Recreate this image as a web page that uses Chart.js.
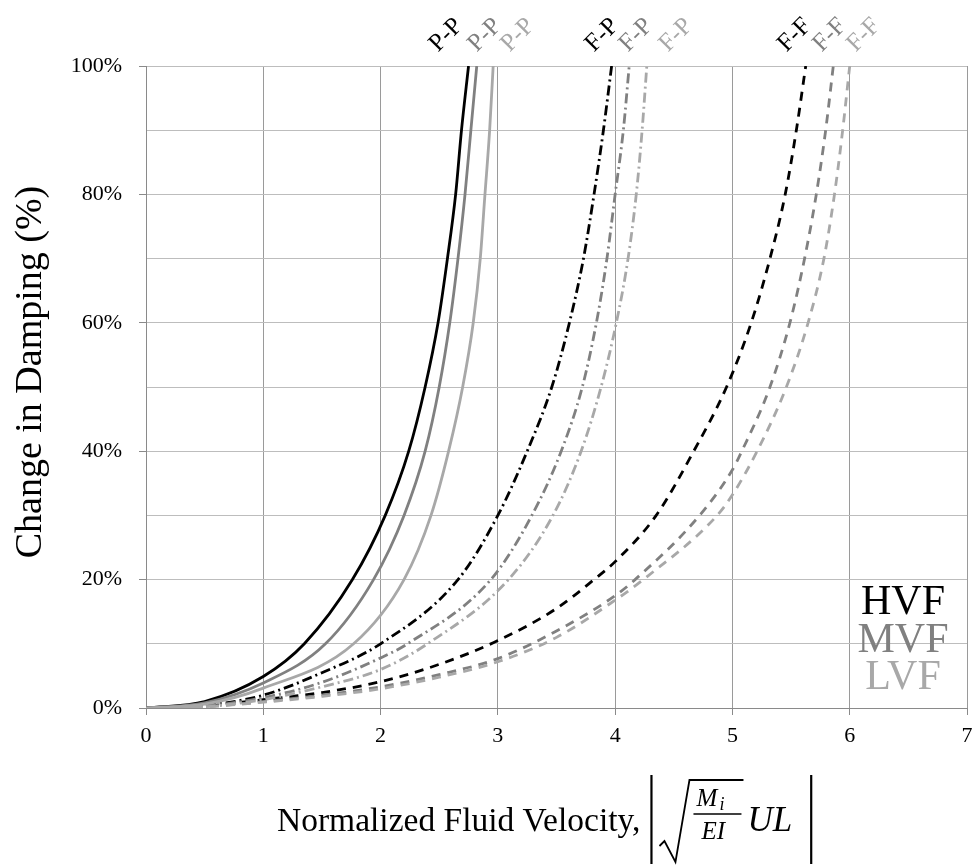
<!DOCTYPE html>
<html><head><meta charset="utf-8">
<script src="https://cdn.jsdelivr.net/npm/chart.js@4/dist/chart.umd.min.js"></script>
<style>html,body{margin:0;padding:0;background:#fff;}</style>
</head><body>
<canvas id="c" width="974" height="865"></canvas>
<script>
// ---------- data ----------
const xTickValues = [0,1,2,3,4,5,6,7];
const yLabelValues = [0,20,40,60,80,100];
const yGridValues = [0,10,20,30,40,50,60,70,80,90,100];

// P-P (solid)
const ppHvfX = [0,0.5,1,1.35,1.76,2.04,2.24,2.38,2.49,2.57,2.64,2.69,2.75];
const ppHvfY = [0,1.0,4.9,10,20,30,40,50,60,70,80,90,100];
const ppMvfX = [0,0.5,1,1.53,1.94,2.2,2.38,2.5,2.59,2.66,2.72,2.77,2.82];
const ppMvfY = [0,0.8,3.9,10,20,30,40,50,60,70,80,90,100];
const ppLvfX = [0,0.5,1,1.77,2.2,2.43,2.58,2.7,2.79,2.85,2.89,2.93,2.96];
const ppLvfY = [0,0.6,3.1,10,20,30,40,50,60,70,80,90,100];
// F-P (dash-dot)
const fpHvfX = [0,0.5,1,1.5,2,2.66,3.0,3.25,3.46,3.61,3.73,3.82,3.9,3.97];
const fpHvfY = [0,0.4,2.0,5.5,10,20,30,40,50,60,70,80,90,100];
const fpMvfX = [0,0.5,1,1.5,2,2.23,2.94,3.29,3.54,3.72,3.84,3.93,4.0,4.07,4.12];
const fpMvfY = [0,0.3,1.6,4,7.8,10,20,30,40,50,60,70,80,90,100];
const fpLvfX = [0,0.5,1,1.5,2,2.4,3.09,3.47,3.71,3.88,4.01,4.11,4.18,4.23,4.27];
const fpLvfY = [0,0.2,1.3,3.3,6,10,20,30,40,50,60,70,80,90,100];
// F-F (dashed)
const ffHvfX = [0,0.5,1,1.5,2,2.5,3,3.5,3.82,4,4.35,4.67,4.95,5.16,5.32,5.45,5.545,5.625];
const ffHvfY = [0,0.3,1.3,2.4,4.1,6.8,10.5,15.5,20,22.8,30,40,50,60,70,80,90,100];
const ffMvfX = [0,0.5,1,1.5,2,2.5,3,3.5,4,4.17,4.72,5.0,5.08,5.32,5.49,5.615,5.715,5.795,5.86];
const ffMvfY = [0,0.2,1.0,2.0,3.3,5.2,7.7,12,17.5,20,30,37.1,40,50,60,70,80,90,100];
const ffLvfX = [0,0.5,1,1.5,2,2.5,3,3.5,4,4.24,4.87,5.0,5.21,5.46,5.645,5.78,5.87,5.94,6.0];
const ffLvfY = [0,0.2,0.9,1.8,3.0,4.8,7.2,11,16.8,20,30,33.2,40,50,60,70,80,90,100];

const levelNames = ['HVF','MVF','LVF'];
const curveNames = ['P-P','F-P','F-F'];
// label anchor along x (data units) for each curve name, per level H/M/L
const labelAnchorX = { 'P-P':[2.56,2.89,3.17], 'F-P':[3.89,4.18,4.52], 'F-F':[5.53,5.83,6.12] };

// ---------- styles ----------
const levelColors = { HVF:'#000000', MVF:'#808080', LVF:'#a8a8a8' };
const curveDash = { 'P-P':[], 'F-P':[10,4,2,4], 'F-F':[9,7] };
const serif = '"Liberation Serif", "Times New Roman", serif';

const pts = (xs, ys) => xs.map((x,i)=>({x, y: ys[i]}));
const series = [
  ['P-P','LVF',ppLvfX,ppLvfY],['P-P','MVF',ppMvfX,ppMvfY],['P-P','HVF',ppHvfX,ppHvfY],
  ['F-P','LVF',fpLvfX,fpLvfY],['F-P','MVF',fpMvfX,fpMvfY],['F-P','HVF',fpHvfX,fpHvfY],
  ['F-F','LVF',ffLvfX,ffLvfY],['F-F','MVF',ffMvfX,ffMvfY],['F-F','HVF',ffHvfX,ffHvfY]
];
const datasets = series.map(([c,l,xs,ys])=>({
  label: c+' '+l,
  data: pts(xs,ys),
  borderColor: levelColors[l],
  borderWidth: 2.8,
  borderDash: curveDash[c],
  borderCapStyle: 'butt',
  pointRadius: 0,
  fill: false,
  showLine: true,
  cubicInterpolationMode: 'monotone'
}));

const annot = {
  id:'annot',
  beforeDraw(chart){
    const ctx = chart.ctx;
    ctx.save(); ctx.fillStyle='#fff'; ctx.fillRect(0,0,chart.width,chart.height); ctx.restore();
  },
  afterDraw(chart){
    const ctx = chart.ctx, xs = chart.scales.x, a = chart.chartArea;
    ctx.save();
    // curve labels at top, rotated 45deg
    ctx.font = '25px '+serif;
    ctx.textAlign='center'; ctx.textBaseline='middle';
    curveNames.forEach(c=>{
      levelNames.forEach((l,i)=>{
        const px = xs.getPixelForValue(labelAnchorX[c][i]);
        ctx.save();
        ctx.translate(px, a.top - 31);
        ctx.rotate(-Math.PI/4);
        ctx.fillStyle = levelColors[l];
        ctx.fillText(c,0,0);
        ctx.restore();
      });
    });
    // level legend (HVF / MVF / LVF)
    ctx.font = '42px '+serif;
    ctx.textAlign='center'; ctx.textBaseline='alphabetic';
    levelNames.forEach((l,i)=>{
      ctx.fillStyle = levelColors[l];
      ctx.fillText(l, a.right - 64, a.bottom - 94 + i*37.5);
    });
    // y-axis title
    ctx.save();
    ctx.translate(31, 372);
    ctx.rotate(-Math.PI/2);
    ctx.font = '38px '+serif; ctx.fillStyle='#000';
    ctx.textAlign='center'; ctx.textBaseline='middle';
    ctx.fillText('Change in Damping (%)',0,0);
    ctx.restore();
    // x-axis title with formula
    ctx.fillStyle='#000'; ctx.strokeStyle='#000';
    ctx.font = '33.5px '+serif; ctx.textAlign='left'; ctx.textBaseline='alphabetic';
    const base = 831;
    const t1 = 'Normalized Fluid Velocity,';
    const x0 = 277;
    ctx.fillText(t1, x0, base);
    let x = x0 + ctx.measureText(t1).width + 11;
    // left bar
    ctx.lineWidth = 2.2;
    ctx.beginPath(); ctx.moveTo(x, 775); ctx.lineTo(x, 864); ctx.stroke();
    // sqrt sign
    const sx = x + 8;
    ctx.lineWidth = 1.8;
    ctx.beginPath();
    ctx.moveTo(sx, 846); ctx.lineTo(sx+5, 841);
    ctx.lineTo(sx+16, 862); ctx.lineTo(sx+30, 780); ctx.lineTo(sx+84, 780);
    ctx.stroke();
    // fraction M_i / EI
    const fx = sx + 34;
    ctx.font = 'italic 25px '+serif;
    ctx.fillText('M', fx+3, 806);
    ctx.font = 'italic 18px '+serif;
    ctx.fillText('i', fx+26, 810);
    ctx.lineWidth = 1.4;
    ctx.beginPath(); ctx.moveTo(fx, 814); ctx.lineTo(fx+48, 814); ctx.stroke();
    ctx.font = 'italic 25px '+serif;
    ctx.fillText('EI', fx+8, 839);
    // UL
    ctx.font = 'italic 35px '+serif;
    ctx.fillText('UL', sx+88, base);
    const ux = sx + 88 + ctx.measureText('UL').width + 19;
    ctx.lineWidth = 2.2;
    ctx.beginPath(); ctx.moveTo(ux, 775); ctx.lineTo(ux, 864); ctx.stroke();
    ctx.restore();
  }
};

new Chart(document.getElementById('c'), {
  type: 'scatter',
  data: { datasets },
  options: {
    responsive: false,
    animation: false,
    layout: { padding: { top: 66, right: 0, left: 0, bottom: 0 } },
    plugins: { legend: { display:false }, tooltip: { enabled:false } },
    scales: {
      x: {
        type: 'linear', min: 0, max: 7,
        afterFit: s => { s.height = 157; s.paddingRight = 7; s.paddingLeft = 0; },
        afterBuildTicks: s => { s.ticks = xTickValues.map(v=>({value:v})); },
        grid: { color:'#9a9a9a', lineWidth:1, tickLength:7, tickColor:'#8a8a8a' },
        border: { color:'#8a8a8a', width:1 },
        ticks: { color:'#000', font:{ family: serif, size: 22 }, padding: 8, maxRotation:0,
                 callback: v => String(v) }
      },
      y: {
        type: 'linear', min: 0, max: 100,
        afterFit: s => { s.width = 146; },
        afterBuildTicks: s => { s.ticks = yGridValues.map(v=>({value:v})); },
        grid: { color:'#bdbdbd', lineWidth:1, tickLength:7,
                tickColor: ctx => yLabelValues.includes(ctx.tick && ctx.tick.value) ? '#8a8a8a' : 'rgba(0,0,0,0)' },
        border: { color:'#8a8a8a', width:1 },
        ticks: { color:'#000', font:{ family: serif, size: 22 }, padding: 17,
                 callback: v => yLabelValues.includes(v) ? v+'%' : '' }
      }
    }
  },
  plugins: [annot]
});
</script>
</body></html>
